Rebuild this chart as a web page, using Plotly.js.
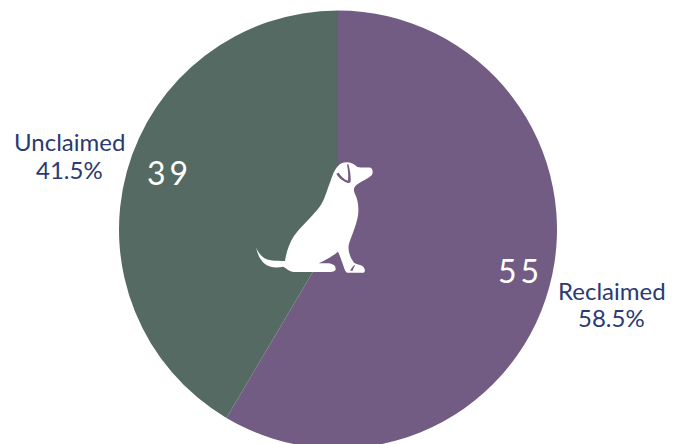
<!DOCTYPE html>
<html>
<head>
<meta charset="utf-8">
<script src="https://cdn.plot.ly/plotly-3.0.1.min.js"></script>
<style>html,body{margin:0;padding:0;width:680px;height:444px;overflow:hidden;background:#fff}</style>
</head>
<body>
<div id="chart"></div>
<script>
const categories = ["Reclaimed", "Unclaimed"];
const counts = [55, 39];
const sliceColors = ["#735C83", "#546A62"];
const percentLabels = ["58.5%", "41.5%"];
const W = 680, H = 460;
const cx = 338, cy = 229.5, r = 219;

const dogPath = "M48 292 C56 312 70 328 92 331 C108 333 122 333 135 333 C138 312 146 282 162 258 C182 230 212 205 238 172 C254 150 260 122 272 92 C280 68 288 48 306 39 C322 33 340 38 352 51 C366 54 380 52 392 53 C399 57 400 68 395 76 C384 86 364 94 350 104 C340 112 340 122 345 132 C354 150 357 172 354 196 C350 226 332 262 326 286 C324 304 330 322 342 338 C352 344 364 344 370 350 C376 358 376 366 370 368 L322 368 C314 366 312 350 306 336 C302 324 298 314 294 305 C278 318 254 332 236 340 L266 340 C280 342 288 348 287 358 C286 364 280 366 270 366 L160 366 C148 364 140 356 130 350 C112 354 88 354 72 340 C60 328 52 312 48 292 Z";
const earPath = "M325 42 C330 60 333 78 332 94 C330 102 322 100 312 94 C302 88 294 80 289 71 L296 68 C302 78 312 88 324 92 C326 76 324 58 321 44 Z";
const pawPath = "M330 362 C336 352 340 346 346 344 C342 350 340 356 338 362 Z";
const dogSvg = '<svg xmlns="http://www.w3.org/2000/svg" viewBox="0 0 450 390" width="450" height="390">' +
  '<path fill="#ffffff" d="' + dogPath + '"/>' +
  '<path fill="#735C83" d="' + earPath + '"/>' +
  '<path fill="#735C83" d="' + pawPath + '"/></svg>';

const THIN = "\u2009";
const spaced = v => String(v).split("").join(THIN);

Plotly.newPlot("chart", [{
  type: "pie",
  labels: categories,
  values: counts,
  sort: false,
  direction: "clockwise",
  rotation: 0,
  textinfo: "none",
  hoverinfo: "label+value+percent",
  marker: {colors: sliceColors, line: {width: 0}},
  domain: {x: [(cx - r) / W, (cx + r) / W], y: [(H - cy - r) / H, (H - cy + r) / H]},
  showlegend: false
}], {
  width: W,
  height: H,
  margin: {l: 0, r: 0, t: 0, b: 0, pad: 0},
  paper_bgcolor: "#ffffff",
  font: {family: "Lato, sans-serif"},
  images: [{
    source: "data:image/svg+xml;charset=utf-8," + encodeURIComponent(dogSvg),
    xref: "paper", yref: "paper",
    x: 240 / W, y: 1 - 150 / H,
    sizex: 150 / W, sizey: 130 / H,
    xanchor: "left", yanchor: "top",
    sizing: "stretch", layer: "above"
  }],
  annotations: [
    {text: spaced(counts[0]), x: 518 / W, y: 1 - 270 / H, font: {size: 32, color: "#ffffff", family: "Lato", weight: 400}},
    {text: spaced(counts[1]), x: 167.5 / W, y: 1 - 172 / H, font: {size: 32, color: "#ffffff", family: "Lato", weight: 400}},
    {text: categories[0], x: 612 / W, y: 1 - 290 / H, font: {size: 24, color: "#2A3A72", family: "Lato"}},
    {text: percentLabels[0], x: 611.5 / W, y: 1 - 317.5 / H, font: {size: 24, color: "#2A3A72", family: "Lato"}},
    {text: categories[1], x: 69.5 / W, y: 1 - 141.5 / H, font: {size: 24, color: "#2A3A72", family: "Lato"}},
    {text: percentLabels[1], x: 69 / W, y: 1 - 169 / H, font: {size: 24, color: "#2A3A72", family: "Lato"}}
  ].map(a => Object.assign({xref: "paper", yref: "paper", xanchor: "center", yanchor: "middle", showarrow: false, align: "center"}, a))
}, {displayModeBar: false, staticPlot: true});
</script>
</body>
</html>
